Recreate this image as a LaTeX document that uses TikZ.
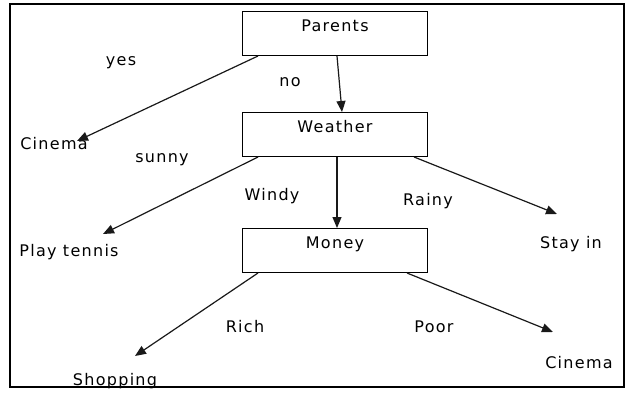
\documentclass[tikz,border=0pt]{standalone}
\usepackage{fontspec}
\setmainfont[LetterSpace=8]{DejaVu Sans}
\usetikzlibrary{arrows.meta,calc}
\tikzset{
  txt/.style={font=\fontsize{16}{18}\selectfont},
  box/.style={draw=black, line width=1pt, minimum width=185pt, inner xsep=0pt, inner ysep=0pt,
    text height=20pt, text depth=24pt, anchor=north, txt},
  lbl/.style={inner sep=0pt, txt},
  conn/.style={draw=black!90, line width=1.2pt, -{Triangle[length=11pt,width=9pt]}},
}
\begin{document}
\begin{tikzpicture}[x=1pt,y=-1pt]
\useasboundingbox (0,0) rectangle (630,396);
\draw[line width=2pt] (10,4) rectangle (624,387);
\node[box] (parents) at (335,11) {Parents};
\node[box] (weather) at (335,112) {Weather};
\node[box] (money) at (335,228) {Money};
% leaves
\node[lbl] (cinema1) at (54,144) {Cinema};
\node[lbl] (tennis) at (69,252) {Play tennis};
\node[lbl] (stay) at (571,244) {Stay in};
\node[lbl] (shop) at (115,381) {Shopping};
\node[lbl] (cinema2) at (579,363) {Cinema};
% edge labels
\node[lbl] (lyes) at (121,63) {yes};
\node[lbl] (lno) at (290,82) {no};
\node[lbl] (lsunny) at (162,160) {sunny};
\node[lbl] (lwindy) at (272,196) {Windy};
\node[lbl] (lrainy) at (428,201) {Rainy};
\node[lbl] (lrich) at (245,327) {Rich};
\node[lbl] (lpoor) at (434,327) {Poor};
% arrow tip coordinates
\coordinate (t1) at (77,141);
\coordinate (t2) at (103,234);
\coordinate (t3) at (557,214);
\coordinate (t4) at (135,356);
\coordinate (t5) at (553,332);
% connectors
\draw[conn] ($(parents.south west)+(16,0)$) -- (t1);
\draw[conn] ($(parents.south)+(2,0)$) -- ($(weather.north)+(7,0)$);
\draw[conn] ($(weather.south west)+(16,0)$) -- (t2);
\draw[conn] ($(weather.south)+(2,0)$) -- ($(money.north)+(2,0)$);
\draw[conn] ($(weather.south east)+(-14,0)$) -- (t3);
\draw[conn] ($(money.south west)+(16,0)$) -- (t4);
\draw[conn] ($(money.south east)+(-21,0)$) -- (t5);
\end{tikzpicture}
\end{document}
